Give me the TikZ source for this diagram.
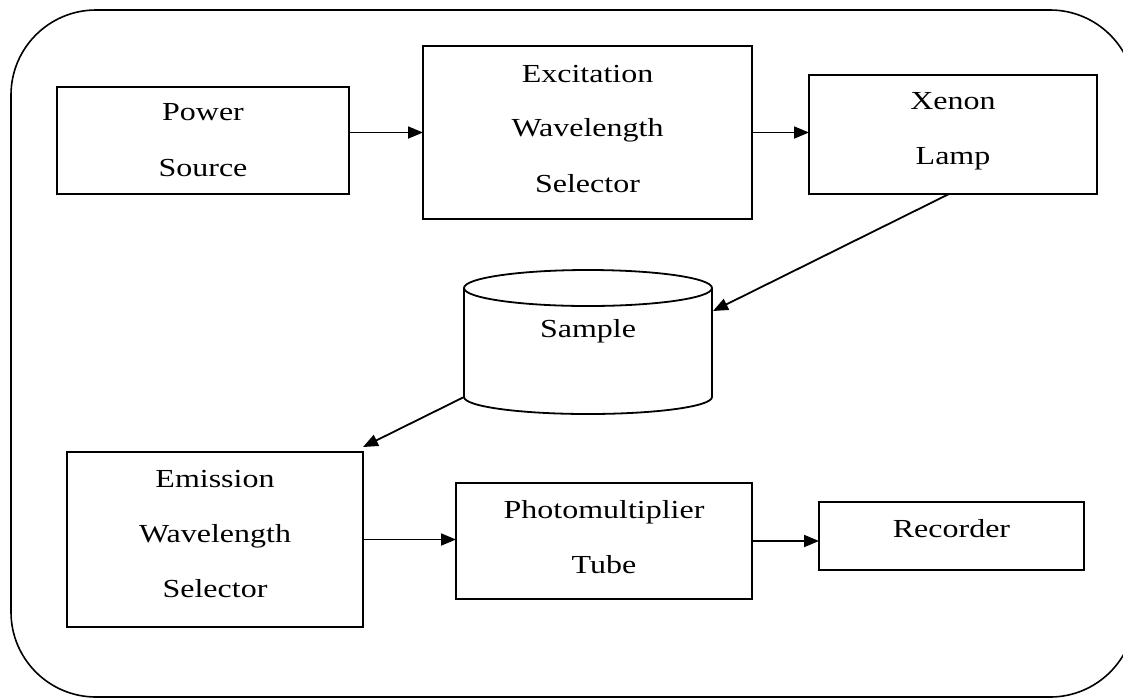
\documentclass[tikz,border=0pt]{standalone}
\usepackage{fontspec}
\setmainfont{Liberation Serif}[FakeStretch=1.23]
\usetikzlibrary{arrows.meta,calc}
\tikzset{
  blk/.style={draw=black,line width=1.8pt,inner sep=0pt,outer sep=0pt,rectangle},
  txt/.style={anchor=base,inner sep=0pt,font=\fontsize{26}{30}\selectfont},
  conn/.style={line width=1.8pt,-{Triangle[length=15pt,width=12pt]}},
  frame/.style={draw=black,line width=1.6pt,rounded corners=85pt}
}
\begin{document}
\begin{tikzpicture}[x=1pt,y=-1pt]
\useasboundingbox (0,0) rectangle (1123,697);
\clip (0,0) rectangle (1123,697);
\fill[white] (0,0) rectangle (1123,697);
% outer frame
\draw[frame] (11,10) rectangle (1135,697);
% boxes
\node[blk,minimum width=292pt,minimum height=107pt] (power) at (203,140.5) {};
\node[blk,minimum width=329pt,minimum height=173pt] (excit) at (587.5,132.5) {};
\node[blk,minimum width=288pt,minimum height=119pt] (xenon) at (953,134.5) {};
\node[blk,minimum width=296pt,minimum height=175pt] (emission) at (215,539.5) {};
\node[blk,minimum width=296pt,minimum height=116pt] (pmt) at (604,541) {};
\node[blk,minimum width=265pt,minimum height=68pt] (recorder) at (951.5,536) {};
% sample cylinder
\draw[line width=1.8pt] (464,288) -- (464,397) arc[start angle=180,end angle=0,x radius=124,y radius=17] -- (712,288);
\draw[line width=1.8pt] (588,288) ellipse [x radius=124,y radius=18];
\coordinate (smpR) at (713,311);
\coordinate (smpBL) at (464,397);
% texts
\node[txt] (t1) at (203,120) {Power};
\node[txt] (t2) at (203,176) {Source};
\node[txt] (t3) at (587.5,82) {Excitation};
\node[txt] (t4) at (587.5,136) {Wavelength};
\node[txt] (t5) at (587.5,192) {Selector};
\node[txt] (t6) at (953,109) {Xenon};
\node[txt] (t7) at (953,164) {Lamp};
\node[txt] (t8) at (588,337) {Sample};
\node[txt] (t9) at (215,487) {Emission};
\node[txt] (t10) at (215,542) {Wavelength};
\node[txt] (t11) at (215,597) {Selector};
\node[txt] (t12) at (604,518) {Photomultiplier};
\node[txt] (t13) at (604,573) {Tube};
\node[txt] (t14) at (951.5,537) {Recorder};
% connectors
\draw[conn] (power.east |- excit.west) -- (excit.west);
\draw[conn] (excit.east) -- (xenon.west |- excit.east);
\draw[conn] ([xshift=-4pt]xenon.south) -- (smpR);
\draw[conn] (smpBL) -- ([yshift=5pt]emission.north east);
\draw[conn] (emission.east) -- (pmt.west |- emission.east);
\draw[conn] (pmt.east) -- (recorder.west |- pmt.east);
\end{tikzpicture}
\end{document}
